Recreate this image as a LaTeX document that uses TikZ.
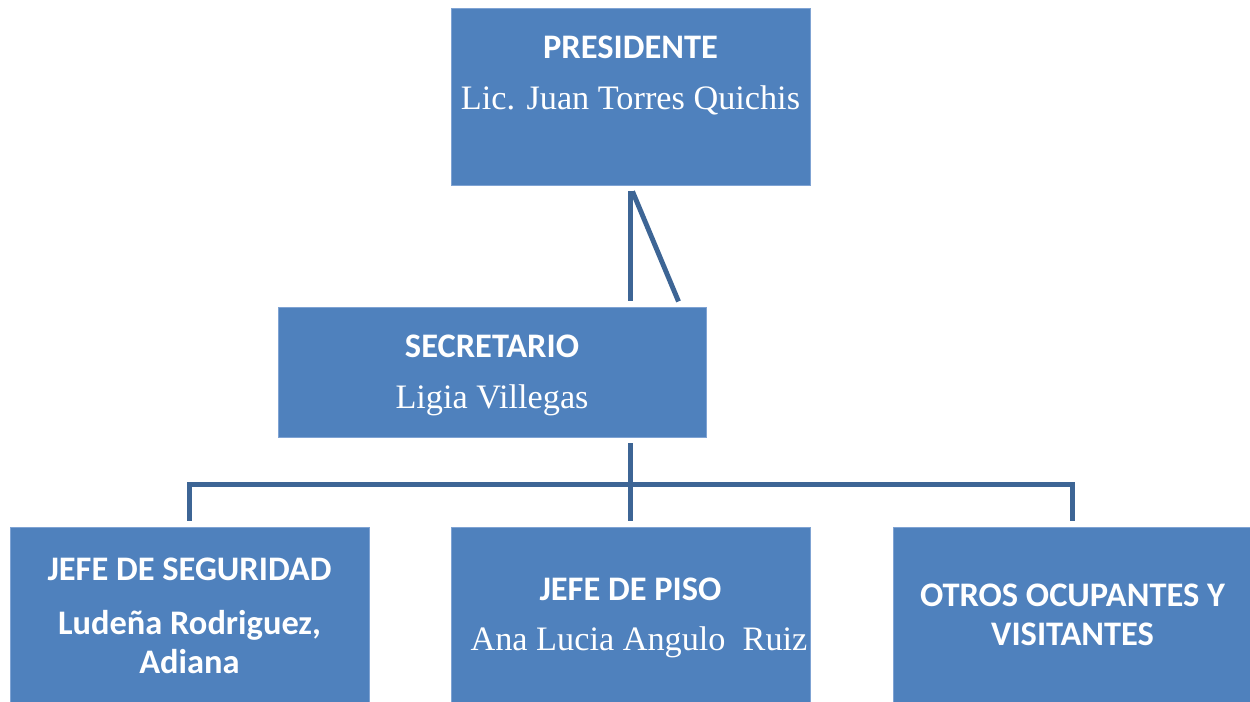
\documentclass[tikz,border=0pt]{standalone}
\usepackage{fontspec}
\setmainfont{Liberation Serif}
\newfontfamily\calfont{Carlito}
\definecolor{boxblue}{HTML}{4F81BD}
\definecolor{boxedge}{HTML}{7FA3D3}
\definecolor{linkblue}{HTML}{3D6595}
\begin{document}
\begin{tikzpicture}[x=0.02cm,y=-0.02cm]
	\tikzstyle{cargo}=[rectangle, fill=boxblue, draw=boxedge, line width=0.5pt, inner sep=0pt]
	\tikzstyle{titulo}=[text=white, inner sep=0pt, font=\calfont\bfseries\fontsize{19.6}{22}\selectfont]
	\tikzstyle{nombre}=[text=white, inner sep=0pt, font=\fontsize{19.5}{23}\selectfont]
	\tikzstyle{link}=[draw=linkblue, line width=2.8pt]
	\useasboundingbox (0,0) rectangle (1250,702);

	% Presidente
	\node at (630.5, 96.5) [cargo, minimum width=359*0.02cm, minimum height=177*0.02cm] (pres) {};
	\node at (630.5, 47) [titulo] (presT) {PRESIDENTE};
	\node at (630.5, 100) [nombre] (presN) {Lic. Juan Torres Quichis};

	% Secretario
	\node at (492, 372) [cargo, minimum width=428*0.02cm, minimum height=130*0.02cm] (sec) {};
	\node at (492, 346) [titulo] (secT) {SECRETARIO};
	\node at (492, 400) [nombre] (secN) {Ligia Villegas};

	% Nivel inferior
	\node at (189.5, 614.5) [cargo, minimum width=359*0.02cm, minimum height=175*0.02cm] (seg) {};
	\node at (630.5, 614.5) [cargo, minimum width=359*0.02cm, minimum height=175*0.02cm] (piso) {};
	\node at (1072.5, 614.5) [cargo, minimum width=359*0.02cm, minimum height=175*0.02cm] (otros) {};

	\node at (189.5, 569) [titulo] (segT) {JEFE DE SEGURIDAD};
	\node at (189.5, 642) [titulo, align=center] (segN) {Ludeña Rodriguez,\\Adiana};
	\node at (630.5, 589) [titulo] (pisoT) {JEFE DE PISO};
	\node at (639, 642) [nombre] (pisoN) {Ana Lucia Angulo\ \ Ruiz};
	\node at (1072.5, 615) [titulo, align=center] (otrosT) {OTROS OCUPANTES Y\\VISITANTES};

	% Conectores
	\draw [link] ([yshift=-0.12cm]pres.south) -- ++(0,110);
	\draw [link] ([yshift=-0.12cm, xshift=0.04cm]pres.south) -- ++(46,110);
	\draw [link, shorten <=0.12cm, shorten >=0.12cm] (sec.south -| piso.north) -- (piso.north);
	\draw [link] ([yshift=0.12cm]seg.north) -- ++(0,-36) -| ([yshift=0.12cm]otros.north);
\end{tikzpicture}
\end{document}
